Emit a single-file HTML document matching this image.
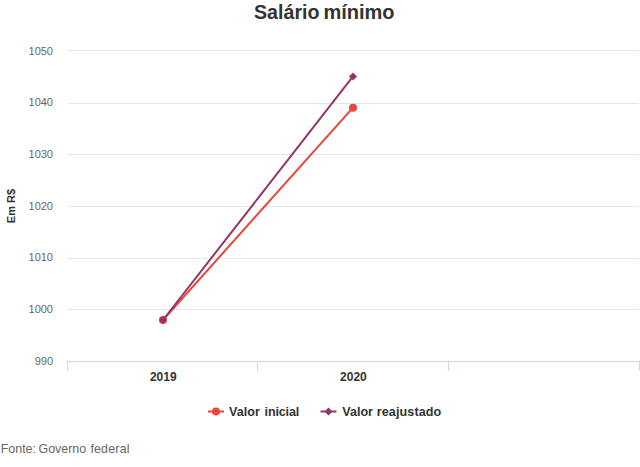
<!DOCTYPE html>
<html lang="pt-BR">
<head>
<meta charset="utf-8">
<title>Salário mínimo</title>
<style>
html,body{margin:0;padding:0;background:#fff;}
body{width:640px;height:467px;overflow:hidden;font-family:"Liberation Sans",sans-serif;}
svg{display:block;}
text{font-family:"Liberation Sans",sans-serif;}
</style>
</head>
<body>
<svg width="640" height="467" viewBox="0 0 640 467">
<rect x="0" y="0" width="640" height="467" fill="#ffffff"/>
<!-- title -->
<g font-size="19.5" font-weight="bold" fill="#333333"><text x="254" y="18.8" textLength="65.5" lengthAdjust="spacingAndGlyphs">Salário</text><text x="323.4" y="18.8" font-size="20">mínimo</text></g>
<!-- grid lines -->
<g fill="#e6e6e6" shape-rendering="crispEdges">
<rect x="68" y="50" width="571" height="1"/>
<rect x="68" y="103" width="571" height="1"/>
<rect x="68" y="154" width="571" height="1"/>
<rect x="68" y="206" width="571" height="1"/>
<rect x="68" y="258" width="571" height="1"/>
<rect x="68" y="309" width="571" height="1"/>
</g>
<!-- x axis -->
<g fill="#ccd6eb" shape-rendering="crispEdges">
<rect x="67" y="361" width="573" height="1"/>
<rect x="67" y="361" width="1" height="10"/>
<rect x="257" y="361" width="1" height="10"/>
<rect x="448" y="361" width="1" height="10"/>
<rect x="639" y="361" width="1" height="10"/>
</g>
<!-- y labels -->
<g font-size="11" fill="#666666" text-anchor="end">
<text x="53" y="55">1050</text>
<text x="53" y="106">1040</text>
<text x="53" y="158">1030</text>
<text x="53" y="210">1020</text>
<text x="53" y="261">1010</text>
<text x="53" y="313">1000</text>
<text x="53" y="365">990</text>
</g>
<!-- y title -->
<text transform="translate(15,206) rotate(-90)" text-anchor="middle" font-size="11" font-weight="bold" fill="#333333">Em R$</text>
<!-- x labels -->
<g font-size="12" font-weight="bold" fill="#333333" text-anchor="middle">
<text x="163.3" y="381">2019</text>
<text x="353.4" y="381">2020</text>
</g>
<!-- series -->
<path d="M163 320 L353 107.7" stroke="#e9463c" stroke-width="2" fill="none" stroke-linecap="round"/>
<circle cx="163" cy="320" r="4" fill="#e9463c"/>
<circle cx="353" cy="107.7" r="4" fill="#e9463c"/>
<path d="M163 320 L353 76.4" stroke="#933567" stroke-width="2" fill="none" stroke-linecap="round"/>
<path d="M163 316 L167 320 L163 324 L159 320 Z" fill="#933567"/>
<path d="M353 72.4 L357 76.4 L353 80.4 L349 76.4 Z" fill="#933567"/>
<!-- legend -->
<path d="M208 411.5 H224" stroke="#e9463c" stroke-width="2"/>
<circle cx="216" cy="411.5" r="4" fill="#e9463c"/>
<g font-size="12.6" font-weight="bold" fill="#333333"><text x="229" y="416">Valor</text><text x="264.6" y="416" letter-spacing="-0.17">inicial</text></g>
<path d="M320.5 411.5 H336.5" stroke="#933567" stroke-width="2"/>
<path d="M328.5 407.5 L332.5 411.5 L328.5 415.5 L324.5 411.5 Z" fill="#933567"/>
<g font-size="12.6" font-weight="bold" fill="#333333"><text x="342.2" y="416">Valor</text><text x="376.8" y="416" letter-spacing="0.08">reajustado</text></g>
<!-- footer -->
<g font-size="12.4" fill="#666666"><text x="0.8" y="452.5">Fonte:</text><text x="38.6" y="452.5">Governo</text><text x="90.4" y="452.5" letter-spacing="0.2">federal</text></g>
</svg>
</body>
</html>
